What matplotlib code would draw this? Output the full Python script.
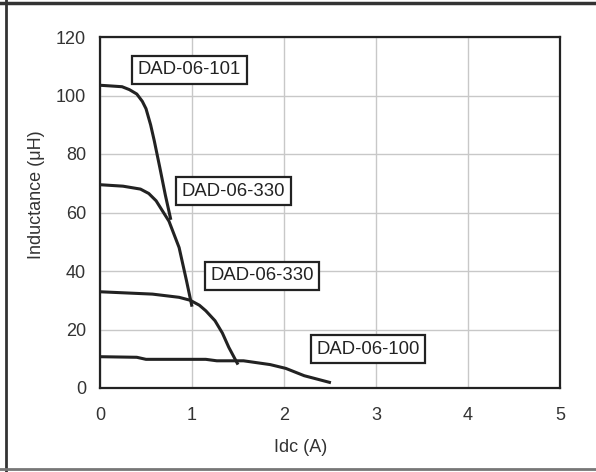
import matplotlib
matplotlib.use("Agg")
import matplotlib.pyplot as plt
from matplotlib.lines import Line2D

plt.rcParams['font.family'] = ['Liberation Sans', 'DejaVu Sans']

# curve data (Idc in A, inductance in uH)
idc_101 = [0.0, 0.10, 0.24, 0.32, 0.40, 0.46, 0.50, 0.55, 0.59, 0.65, 0.71, 0.77]
ind_101 = [103.5, 103.3, 103.0, 102.0, 100.5, 98.0, 95.5, 90.0, 84.5, 75.4, 66.0, 57.5]

idc_330a = [0.0, 0.25, 0.44, 0.53, 0.61, 0.75, 0.86, 0.94, 1.00]
ind_330a = [69.5, 69.0, 68.0, 66.5, 64.0, 57.0, 48.0, 36.7, 27.8]

idc_330b = [0.0, 0.57, 0.86, 0.98, 1.08, 1.15, 1.25, 1.33, 1.40, 1.50]
ind_330b = [32.9, 32.1, 31.0, 30.0, 28.3, 26.4, 23.0, 18.8, 13.9, 8.0]

idc_100 = [0.0, 0.40, 0.50, 1.15, 1.27, 1.56, 1.85, 2.02, 2.22, 2.51]
ind_100 = [10.7, 10.5, 9.8, 9.8, 9.3, 9.3, 8.0, 6.7, 4.2, 1.8]

labels = ["DAD-06-101", "DAD-06-330", "DAD-06-330", "DAD-06-100"]
label_x = [0.41, 0.89, 1.20, 2.35]
label_y = [108.8, 67.3, 38.3, 13.2]

xticks = [0, 1, 2, 3, 4, 5]
yticks = [0, 20, 40, 60, 80, 100, 120]

fig = plt.figure(figsize=(5.96, 4.72), dpi=100)
ax = fig.add_axes([100 / 596, 1 - 388 / 472, 460 / 596, 351 / 472])

line_col = '#222222'
for xs, ys in [(idc_101, ind_101), (idc_330a, ind_330a),
               (idc_330b, ind_330b), (idc_100, ind_100)]:
    ax.plot(xs, ys, color=line_col, lw=2.2, solid_capstyle='butt',
            solid_joinstyle='round', zorder=3)

for txt, x, y in zip(labels, label_x, label_y):
    ax.text(x, y, txt, fontsize=13.3, color='#222222', ha='left', va='center',
            zorder=4,
            bbox=dict(boxstyle='square,pad=0.3', fc='white', ec='#222222', lw=1.6))

ax.set_xlim(0, 5)
ax.set_ylim(0, 120)
ax.set_xticks(xticks)
ax.set_yticks(yticks)
ax.grid(True, color='#c8c8c8', lw=1.0)
ax.set_axisbelow(True)
ax.tick_params(length=0, labelsize=13, labelcolor='#333333')
ax.tick_params(axis='x', pad=14)
ax.tick_params(axis='y', pad=10)
for s in ax.spines.values():
    s.set_color('#222222')
    s.set_linewidth(1.6)

ax.set_xlabel("Idc (A)", fontsize=13, color='#333333')
ax.set_ylabel("Inductance (μH)", fontsize=13, color='#333333')
ax.xaxis.set_label_coords(2.18 / 5, -0.145)
ax.yaxis.set_label_coords(-0.12, 0.55)

# scan frame around the figure (top, left, bottom)
fig.add_artist(Line2D([0, 1], [1 - 3 / 472, 1 - 3 / 472], color='#333333', lw=2.5))
fig.add_artist(Line2D([6 / 596, 6 / 596], [0, 1], color='#333333', lw=2.0))
fig.add_artist(Line2D([0, 1], [3 / 472, 3 / 472], color='#777777', lw=2.0))

fig.savefig("out.png", dpi=100)
